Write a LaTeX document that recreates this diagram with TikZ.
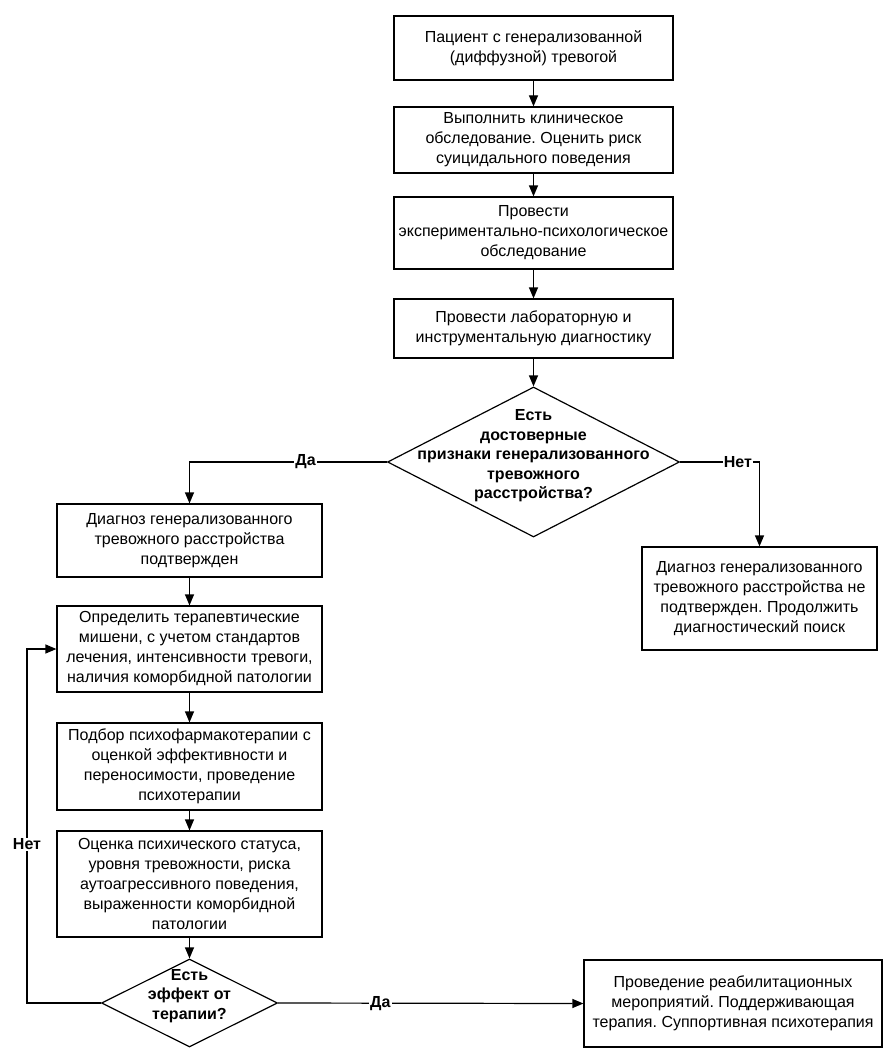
\documentclass[tikz,border=0pt]{standalone}
\usepackage{fontspec}
\setmainfont{Liberation Sans}
\usetikzlibrary{shapes.geometric,arrows.meta}
\frenchspacing
\begin{document}
\begin{tikzpicture}[x=1pt,y=-1pt,
  box/.style={draw, line width=1.2pt, align=center, inner sep=0pt, font=\fontsize{16}{20}\selectfont},
  dia/.style={draw, diamond, line width=1.2pt, inner sep=0pt},
  dtext/.style={align=center, inner sep=0pt, font=\bfseries\fontsize{16}{19.5}\selectfont},
  conn/.style={line width=1.2pt, -{Triangle[length=11pt,width=9pt]}},
  lbl/.style={fill=white, font=\bfseries\fontsize{16}{18}\selectfont, inner sep=1pt}]
\useasboundingbox (0,0) rectangle (887,1062);
\fill[white] (0,0) rectangle (887,1062);

\node[box, minimum width=279pt, minimum height=64pt] (b1) at (533.5,48)
  {Пациент с генерализованной\\(диффузной) тревогой};
\node[box, minimum width=279pt, minimum height=66pt] (b2) at (533.5,140)
  {Выполнить клиническое\\обследование. Оценить риск\\суицидального поведения};
\node[box, minimum width=279pt, minimum height=72pt] (b3) at (533.5,233)
  {Провести\\экспериментально-психологическое\\обследование};
\node[box, minimum width=279pt, minimum height=59pt] (b4) at (533.5,328.5)
  {Провести лабораторную и\\инструментальную диагностику};
\node[dia, minimum width=292pt, minimum height=150pt] (d1) at (533.5,462) {};
\node[dtext] (d1t) at (533.5,456)
  {Есть\\достоверные\\признаки генерализованного\\тревожного\\расстройства?};

\node[box, minimum width=265pt, minimum height=73pt] (A) at (189.5,540.5)
  {Диагноз генерализованного\\тревожного расстройства\\подтвержден};
\node[box, minimum width=265pt, minimum height=86pt] (B) at (189.5,649)
  {Определить терапевтические\\мишени, с учетом стандартов\\лечения, интенсивности тревоги,\\наличия коморбидной патологии};
\node[box, minimum width=265pt, minimum height=87pt] (C) at (189.5,766.5)
  {Подбор психофармакотерапии с\\оценкой эффективности и\\переносимости, проведение\\психотерапии};
\node[box, minimum width=265pt, minimum height=106pt] (D) at (189.5,884)
  {Оценка психического статуса,\\уровня тревожности, риска\\аутоагрессивного поведения,\\выраженности коморбидной\\патологии};
\node[dia, minimum width=176pt, minimum height=88pt] (d2) at (189.5,1003) {};
\node[dtext] (d2t) at (189.5,996) {Есть\\эффект от\\терапии?};

\node[box, minimum width=235pt, minimum height=103pt] (R) at (759.5,598.5)
  {Диагноз генерализованного\\тревожного расстройства не\\подтвержден. Продолжить\\диагностический поиск};
\node[box, minimum width=298pt, minimum height=87pt] (F) at (733,1003.5)
  {Проведение реабилитационных\\мероприятий. Поддерживающая\\терапия. Суппортивная психотерапия};

\coordinate (fb) at (27,649);

\draw[conn] (b1) -- (b2);
\draw[conn] (b2) -- (b3);
\draw[conn] (b3) -- (b4);
\draw[conn] (b4) -- (d1);
\draw[conn] (d1.west) -| node[lbl, pos=0.206] (l1) {Да} (A.north);
\draw[conn] (d1.east) -| node[lbl, pos=0.364] (l2) {Нет} (R.north);
\draw[conn] (A) -- (B);
\draw[conn] (B) -- (C);
\draw[conn] (C) -- (D);
\draw[conn] (D) -- (d2);
\draw[conn] (d2.west) -| node[lbl, pos=0.724] (l3) {Нет} (fb) -- (B.west);
\draw[conn] (d2.east) -- node[lbl, pos=0.335] (l4) {Да} (F.west);
\end{tikzpicture}
\end{document}
